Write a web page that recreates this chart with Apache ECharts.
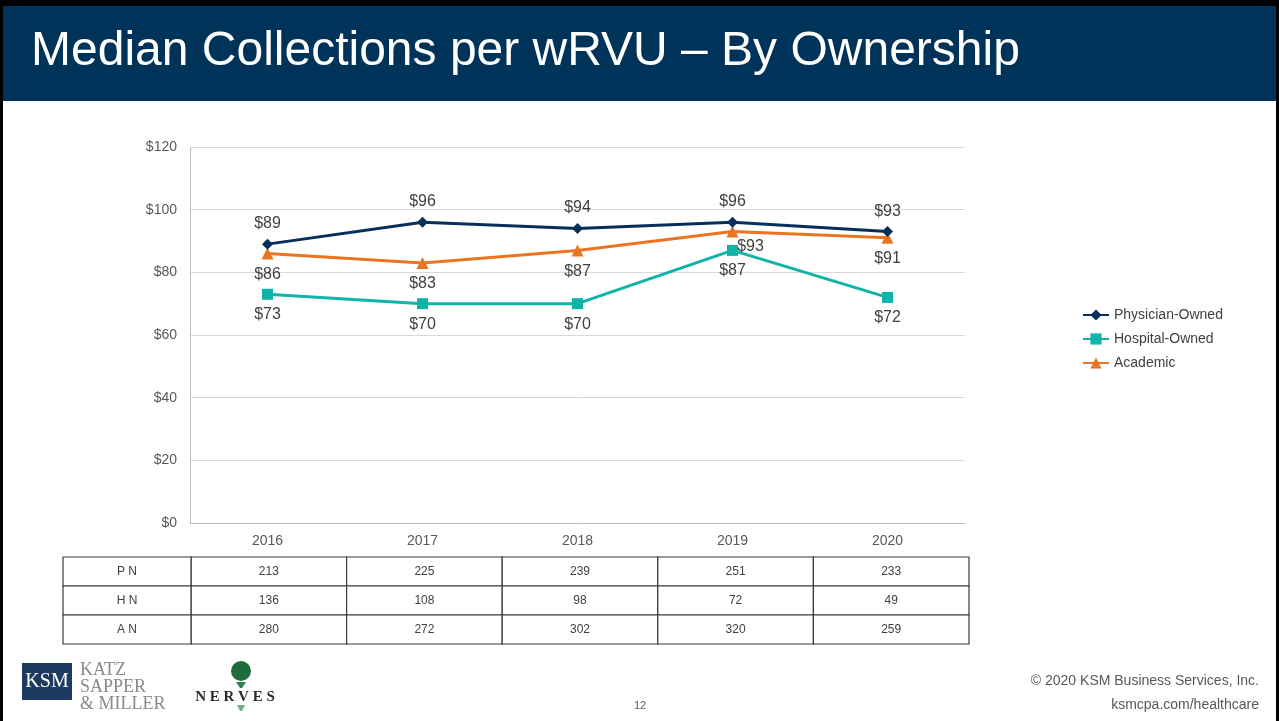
<!DOCTYPE html>
<html>
<head>
<meta charset="utf-8">
<script src="https://cdn.jsdelivr.net/npm/echarts@6/dist/echarts.min.js"></script>
<style>
  html, body { margin: 0; padding: 0; background: #fff; }
  #main { width: 1279px; height: 721px; }
</style>
</head>
<body>
<div id="main"></div>
<script>
// chart data
const years = ['2016', '2017', '2018', '2019', '2020'];
const physicianOwned = [89, 96, 94, 96, 93];
const hospitalOwned = [73, 70, 70, 87, 72];
const academic = [86, 83, 87, 93, 91];
const yTicks = [0, 20, 40, 60, 80, 100, 120];

// N table under the chart
const rowNames = ['P N', 'H N', 'A N'];
const nPhysician = [213, 225, 239, 251, 233];
const nHospital = [136, 108, 98, 72, 49];
const nAcademic = [280, 272, 302, 320, 259];

const FONT = 'Liberation Sans, Arial, sans-serif';
const textGray = '#595959';
const labelGray = '#404040';

const chart = echarts.init(document.getElementById('main'), null, { renderer: 'canvas' });

// table cells: [col, row]
const nRows = [nPhysician, nHospital, nAcademic];
const cellData = [];
const cellText = [];
nRows.forEach((row, r) => {
  row.forEach((v, c) => {
    cellData.push([c, r]);
    cellText.push(String(v));
  });
});
const headData = rowNames.map((n, r) => [0, r]);

function makeCell(texts) {
  return function (params, api) {
    const c = api.coord([api.value(0), api.value(1)]);
    const s = api.size([1, 1]);
    return {
      type: 'group',
      children: [{
        type: 'rect',
        shape: { x: c[0] - s[0] / 2, y: c[1] - s[1] / 2, width: s[0], height: s[1] },
        style: { fill: '#fff', stroke: '#3a3a3a', lineWidth: 1.2 }
      }, {
        type: 'text',
        style: {
          text: texts[params.dataIndex],
          x: c[0], y: c[1],
          align: 'center', verticalAlign: 'middle',
          fill: labelGray, font: '12px ' + FONT
        }
      }]
    };
  };
}

const seriesLabel = (pos) => ({
  show: true,
  position: pos,
  distance: 7,
  color: labelGray,
  fontSize: 16,
  fontFamily: FONT,
  formatter: (p) => '$' + p.value
});

const option = {
  animation: false,
  backgroundColor: '#fff',
  textStyle: { fontFamily: FONT },
  graphic: [
    // slide frame + header
    { type: 'rect', left: 0, top: 0, shape: { width: 1279, height: 6 }, style: { fill: '#000' } },
    { type: 'rect', left: 0, top: 0, shape: { width: 3, height: 721 }, style: { fill: '#000' } },
    { type: 'rect', left: 1276, top: 0, shape: { width: 3, height: 721 }, style: { fill: '#000' } },
    { type: 'rect', left: 3, top: 6, shape: { width: 1273, height: 95 }, style: { fill: '#003359' } },
    {
      type: 'text', left: 31, top: 28,
      style: { text: 'Median Collections per wRVU \u2013 By Ownership', fill: '#fff', font: '48px ' + FONT }
    },
    // KSM logo
    { type: 'rect', left: 22, top: 663, shape: { width: 50, height: 37 }, style: { fill: '#1d3a60' } },
    {
      type: 'text', x: 47, y: 682,
      style: { text: 'KSM', fill: '#fff', font: '20px Liberation Serif, serif', align: 'center', verticalAlign: 'middle' }
    },
    {
      type: 'text', x: 80, y: 662,
      style: { text: 'KATZ\nSAPPER\n& MILLER', fill: '#8a8a8a', font: '18px Liberation Serif, serif', lineHeight: 17 }
    },
    // NERVES logo
    { type: 'circle', shape: { cx: 241, cy: 671, r: 10 }, style: { fill: '#1e6b3c' } },
    { type: 'polygon', shape: { points: [[236, 682], [246, 682], [242, 688], [240, 688]] }, style: { fill: '#2f7d4a' } },
    { type: 'polygon', shape: { points: [[237, 705], [245, 705], [242, 711], [240, 711]] }, style: { fill: '#6fb08a' } },
    {
      type: 'text', x: 235, y: 697,
      style: { text: 'N E R V E S', fill: '#2b2b2b', font: 'bold 15px Liberation Serif, serif', align: 'center', verticalAlign: 'middle' }
    },
    // footer
    {
      type: 'text', x: 640, y: 706,
      style: { text: '12', fill: textGray, font: '11px ' + FONT, align: 'center', verticalAlign: 'middle' }
    },
    {
      type: 'text', x: 1259, y: 681,
      style: { text: '\u00a9 2020 KSM Business Services, Inc.', fill: textGray, font: '14px ' + FONT, align: 'right', verticalAlign: 'middle' }
    },
    {
      type: 'text', x: 1259, y: 705,
      style: { text: 'ksmcpa.com/healthcare', fill: textGray, font: '14px ' + FONT, align: 'right', verticalAlign: 'middle' }
    }
  ],
  legend: {
    orient: 'vertical',
    left: 1082,
    top: 308,
    padding: 0,
    itemWidth: 26,
    itemHeight: 14,
    itemGap: 10,
    textStyle: { color: labelGray, fontSize: 14, fontFamily: FONT },
    data: ['Physician-Owned', 'Hospital-Owned', 'Academic']
  },
  grid: [
    { left: 190, right: 314, top: 147, bottom: 198 },
    { left: 191, width: 778, top: 557, height: 87 },
    { left: 63, width: 128, top: 557, height: 87 }
  ],
  xAxis: [{
    type: 'category',
    gridIndex: 0,
    data: years,
    axisLine: { lineStyle: { color: '#bfbfbf', width: 1 } },
    axisTick: { show: false },
    axisLabel: { color: textGray, fontSize: 14, margin: 11 }
  }, {
    type: 'category', gridIndex: 1, data: years, show: false
  }, {
    type: 'category', gridIndex: 2, data: ['N'], show: false
  }],
  yAxis: [{
    type: 'value',
    gridIndex: 0,
    min: yTicks[0],
    max: yTicks[yTicks.length - 1],
    interval: 20,
    axisLine: { show: true, lineStyle: { color: '#bfbfbf', width: 1 } },
    axisTick: { show: false },
    axisLabel: { color: textGray, fontSize: 14, margin: 13, formatter: (v) => '$' + v },
    splitLine: { lineStyle: { color: '#d9d9d9', width: 1 } }
  }, {
    type: 'category', gridIndex: 1, data: rowNames, inverse: true, show: false
  }, {
    type: 'category', gridIndex: 2, data: rowNames, inverse: true, show: false
  }],
  series: [{
    name: 'Physician-Owned',
    type: 'line',
    data: physicianOwned,
    color: '#06305a',
    symbol: 'diamond',
    symbolSize: 11,
    lineStyle: { width: 3 },
    label: seriesLabel('top'),
    z: 4
  }, {
    name: 'Hospital-Owned',
    type: 'line',
    data: hospitalOwned,
    color: '#10b3a8',
    symbol: 'rect',
    symbolSize: 11,
    lineStyle: { width: 3 },
    label: seriesLabel('bottom'),
    z: 2
  }, {
    name: 'Academic',
    type: 'line',
    data: academic.map((v, i) => i === 3
      ? { value: v, label: { position: 'bottom', offset: [18, -6] } }
      : v),
    color: '#ea7421',
    symbol: 'triangle',
    symbolSize: 12,
    lineStyle: { width: 3 },
    label: seriesLabel('bottom'),
    z: 3
  }, {
    type: 'custom',
    xAxisIndex: 1,
    yAxisIndex: 1,
    data: cellData,
    renderItem: makeCell(cellText),
    silent: true
  }, {
    type: 'custom',
    xAxisIndex: 2,
    yAxisIndex: 2,
    data: headData,
    renderItem: makeCell(rowNames),
    silent: true
  }]
};

chart.setOption(option);
</script>
</body>
</html>
